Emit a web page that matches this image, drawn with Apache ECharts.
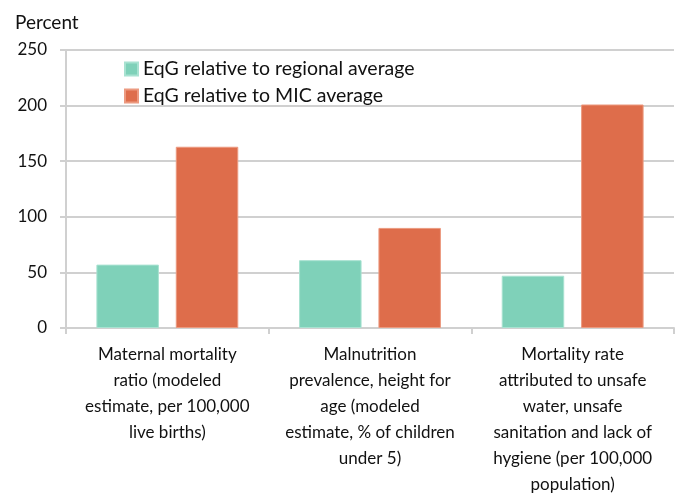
<!DOCTYPE html>
<html><head><meta charset="utf-8">
<script src="https://cdn.jsdelivr.net/npm/echarts@6/dist/echarts.min.js"></script>
<style>html,body{margin:0;padding:0;background:#fff}#c{width:675px;height:498px}</style>
</head><body><div id="c"></div>
<script>
const categories = [
  "Maternal mortality\nratio (modeled\nestimate, per 100,000\nlive births)",
  "Malnutrition\nprevalence, height for\nage (modeled\nestimate, % of children\nunder 5)",
  "Mortality rate\nattributed to unsafe\nwater, unsafe\nsanitation and lack of\nhygiene (per 100,000\npopulation)"
];
const seriesNames = ["EqG relative to regional average", "EqG relative to MIC average"];
const regional = [57, 61, 47];
const mic = [163, 90, 201];
const yTicks = [0, 50, 100, 150, 200, 250];

const font = "Lato, 'Open Sans', sans-serif";
const chart = echarts.init(document.getElementById('c'), null, {renderer: 'canvas'});
chart.setOption({
  animation: false,
  textStyle: {fontFamily: font},
  grid: {left: 66, right: 1, top: 50, bottom: 167, containLabel: false},
  title: {text: 'Percent', left: 10, top: 8, textStyle: {fontFamily: font, fontSize: 19, fontWeight: 'normal', color: '#111'}},
  legend: {
    orient: 'vertical', left: 119, top: 54, itemWidth: 13, itemHeight: 13, itemGap: 7,
    icon: 'rect',
    textStyle: {fontFamily: font, fontSize: 19.5, lineHeight: 20, color: '#111'},
    data: seriesNames
  },
  xAxis: {
    type: 'category', data: categories,
    axisLine: {lineStyle: {color: '#d0d0d0', width: 2}},
    axisTick: {show: true, length: 6, lineStyle: {color: '#d0d0d0', width: 2}},
    axisLabel: {fontFamily: font, fontSize: 17, color: '#111', lineHeight: 26, margin: 14, align: 'center', interval: 0}
  },
  yAxis: {
    type: 'value', min: 0, max: yTicks[yTicks.length-1], interval: 50,
    axisLine: {show: true, lineStyle: {color: '#d0d0d0', width: 2}},
    axisTick: {show: true, length: 6, lineStyle: {color: '#d0d0d0', width: 2}},
    splitLine: {lineStyle: {color: '#d0d0d0', width: 2}},
    axisLabel: {fontFamily: font, fontSize: 17, color: '#111', margin: 19}
  },
  series: [
    {name: seriesNames[0], type: 'bar', data: regional, barGap: '27%', barCategoryGap: '30%',
     itemStyle: {color: '#7fd1b9', borderColor: '#a8e2d1', borderWidth: 1}},
    {name: seriesNames[1], type: 'bar', data: mic,
     itemStyle: {color: '#de6d4b', borderColor: '#ec9a80', borderWidth: 1}}
  ]
});
</script></body></html>
